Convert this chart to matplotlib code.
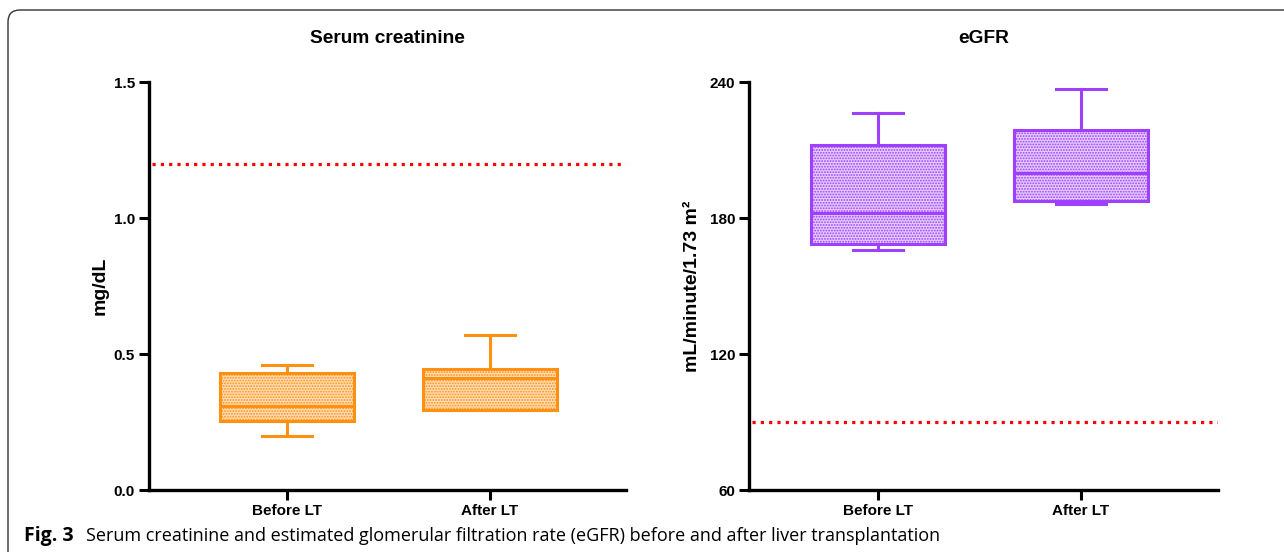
import matplotlib
matplotlib.use("Agg")
import matplotlib.pyplot as plt
from matplotlib.patches import FancyBboxPatch

# ---------------- data ----------------
categories = ["Before LT", "After LT"]

# Serum creatinine (mg/dL): whisker low, Q1, median, Q3, whisker high
crea_whislo = [0.20, 0.295]
crea_q1 = [0.255, 0.295]
crea_med = [0.31, 0.41]
crea_q3 = [0.43, 0.445]
crea_whishi = [0.46, 0.57]
crea_ref = 1.2
crea_ticks = [0.0, 0.5, 1.0, 1.5]

# eGFR (mL/minute/1.73 m2)
egfr_whislo = [166.0, 186.0]
egfr_q1 = [168.5, 187.5]
egfr_med = [182.0, 200.0]
egfr_q3 = [212.0, 219.0]
egfr_whishi = [226.5, 237.0]
egfr_ref = 90
egfr_ticks = [60, 120, 180, 240]

ORANGE = "#FF9010"
ORANGE_FILL = "#FFDDB8"
PURPLE = "#A040FF"
PURPLE_FILL = "#E4CCFF"

plt.rcParams["font.family"] = ["Liberation Sans", "DejaVu Sans"]
plt.rcParams["hatch.linewidth"] = 0.9

W, H = 1284, 552
fig = plt.figure(figsize=(W / 100, H / 100), dpi=100)


def px_axes(x0, x1, ytop, ybot):
    return fig.add_axes([x0 / W, 1 - ybot / H, (x1 - x0) / W, (ybot - ytop) / H])


def panel(ax, lo, q1, med, q3, hi, ref, ticks, color, fill, title, ylabel, xlim, lpad):
    stats = []
    for i, c in enumerate(categories):
        stats.append(dict(label=c, whislo=lo[i], q1=q1[i], med=med[i],
                          q3=q3[i], whishi=hi[i], fliers=[]))
    ax.bxp(stats, positions=[0, 1], widths=0.66, capwidths=0.25,
           showfliers=False, patch_artist=True,
           boxprops=dict(facecolor=fill, edgecolor=color, linewidth=2.2, hatch="......"),
           medianprops=dict(color=color, linewidth=2.2),
           whiskerprops=dict(color=color, linewidth=2.2),
           capprops=dict(color=color, linewidth=2.2))
    ax.axhline(ref, xmin=0.006, xmax=1, color="red", linestyle=(0, (1, 1.6)),
               linewidth=2.3, zorder=1)
    ax.set_xlim(*xlim)
    ax.set_ylim(ticks[0], ticks[-1])
    ax.set_yticks(ticks)
    ax.set_yticklabels([f"{t:.1f}" if isinstance(t, float) else str(t) for t in ticks])
    ax.set_xticks([0, 1])
    ax.set_xticklabels(categories)
    for s in ("top", "right"):
        ax.spines[s].set_visible(False)
    for s in ("left", "bottom"):
        ax.spines[s].set_linewidth(2.4)
    ax.tick_params(axis="both", direction="out", length=7, width=2.2, labelsize=11, pad=3)
    for lab in ax.get_xticklabels() + ax.get_yticklabels():
        lab.set_fontweight("bold")
    ax.set_title(title, fontsize=13.8, fontweight="bold", pad=28)
    ax.set_ylabel(ylabel, fontsize=14, fontweight="bold", labelpad=lpad)


ax1 = px_axes(149, 626, 82, 490)
panel(ax1, crea_whislo, crea_q1, crea_med, crea_q3, crea_whishi, crea_ref,
      crea_ticks, ORANGE, ORANGE_FILL, "Serum creatinine", "mg/dL", (-0.68, 1.67), 4)

ax2 = px_axes(749, 1218, 82, 490)
panel(ax2, egfr_whislo, egfr_q1, egfr_med, egfr_q3, egfr_whishi, egfr_ref,
      egfr_ticks, PURPLE, PURPLE_FILL, "eGFR", "mL/minute/1.73 m²", (-0.635, 1.675), 6)

# frame
frame = FancyBboxPatch((8 / 100, -1.0), 14.0, (H - 10) / 100 + 1.0,
                       boxstyle="round,pad=0,rounding_size=0.12",
                       transform=fig.dpi_scale_trans, facecolor="none",
                       edgecolor="#333333", linewidth=1.0, clip_on=False)
fig.patches.append(frame)

# caption
fig.text(24 / W, 1 - 536 / H, "Fig. 3", fontsize=14, fontweight="bold",
         family=["Open Sans", "DejaVu Sans"], va="center", ha="left")
fig.text(86 / W, 1 - 536 / H,
         "Serum creatinine and estimated glomerular filtration rate (eGFR) before and after liver transplantation",
         fontsize=13, family=["Open Sans", "DejaVu Sans"], va="center", ha="left")

fig.savefig("out.png", dpi=100)
